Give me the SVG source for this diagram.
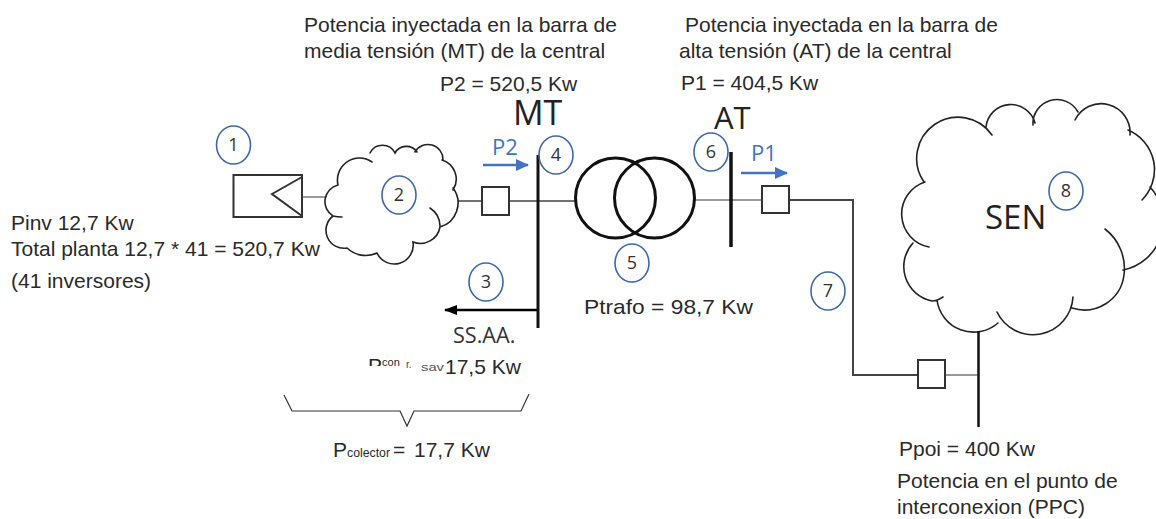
<svg xmlns="http://www.w3.org/2000/svg" width="1156" height="519" viewBox="0 0 1156 519">
<style>
text{font-family:"Liberation Sans",Arial,sans-serif;font-size:21px;fill:#2a2a2a}
.c{font-family:"Open Sans","Noto Sans",sans-serif}
.n{font-family:"Open Sans","Noto Sans",sans-serif;font-size:18px;text-anchor:middle;fill:#333}
.num{fill:#fff;stroke:#3f67a8;stroke-width:1.6}
.cl{fill:#fff;stroke:#222;stroke-width:1.6;stroke-linecap:round}
.wire{fill:none;stroke:#444;stroke-width:1.6}
.gray{fill:none;stroke:#999;stroke-width:2}
.bar{fill:none;stroke:#111;stroke-width:3}
.box{fill:#fff;stroke:#333;stroke-width:2}
</style>
<defs>
<marker id="b" markerUnits="userSpaceOnUse" markerWidth="14" markerHeight="12" refX="12" refY="6" orient="auto"><path d="M0 0L13 6L0 12z" fill="#4472c4"/></marker>
<marker id="k" markerUnits="userSpaceOnUse" markerWidth="14" markerHeight="12" refX="12" refY="5" orient="auto"><path d="M0 0L13 5L0 10z" fill="#000"/></marker>
<clipPath id="top"><rect x="360" y="350" width="50" height="16"/></clipPath>
</defs>
<g id="connectors">
<path class="gray" d="M302 197H328"/>
<path class="wire" d="M458 201H482M509 201H575"/>
<path class="gray" d="M695 200H762"/>
<path class="wire" style="stroke-width:2" d="M789 200H853V375H918"/>
<path class="gray" d="M945 375H978"/>
<path d="M483 165H528" stroke="#4472c4" stroke-width="2.4" fill="none" marker-end="url(#b)"/>
<path d="M741 173H787" stroke="#4472c4" stroke-width="2.4" fill="none" marker-end="url(#b)"/>
<path d="M538 310H445" stroke="#000" stroke-width="2.6" fill="none" marker-end="url(#k)"/>
<path d="M284 395L292 411H400L407 426L414 411H521L529 394" fill="none" stroke="#333" stroke-width="1.2"/>
</g>
<g id="node-1"><path class="box" style="fill:none" d="M233.500 175H302V217H233.500ZM302 177L272 194L302 216"/><ellipse class="num" cx="233.500" cy="145" rx="17" ry="19"/><text class="n" x="233.500" y="151">1</text></g>
<g id="node-2"><path class="cl" d="M338 185A22 22 0 0 1 372 162M370 153A14 14 0 0 1 395 153A13 13 0 0 1 417 152M415 152A15 15 0 0 1 443 160M442 160A20 20 0 0 1 453 190M453 188A25 25 0 0 1 440 227M430 208A22 22 0 0 1 440 227A20 20 0 0 1 413 242A19 19 0 0 1 377 253A27 27 0 0 1 347 248A18 18 0 0 1 333 216Q337 217 342 217M333 216A17 17 0 0 1 338 185"/><ellipse class="num" cx="399" cy="195" rx="17" ry="19"/><text class="n" x="399" y="201">2</text></g>
<g id="node-3"><ellipse class="num" cx="486" cy="282" rx="17" ry="19"/><text class="n" x="486" y="288">3</text></g>
<g id="node-4"><path class="bar" d="M538 155V328"/><ellipse class="num" style="fill:none" cx="556" cy="155" rx="17" ry="19"/><text class="n" x="556" y="161">4</text></g>
<g id="node-5"><circle cx="615.500" cy="198" r="40" fill="none" stroke="#111" stroke-width="3"/><circle cx="654.500" cy="198" r="40" fill="none" stroke="#111" stroke-width="3"/><ellipse class="num" cx="632" cy="263" rx="17" ry="19"/><text class="n" x="632" y="269">5</text></g>
<g id="node-6"><path class="bar" style="stroke-width:3.500" d="M731 152V247"/><ellipse class="num" style="fill:none" cx="711" cy="152" rx="17" ry="19"/><text class="n" x="711" y="158">6</text></g>
<g id="node-7"><ellipse class="num" cx="828" cy="291" rx="17" ry="19"/><text class="n" x="828" y="297">7</text></g>
<g id="node-8"><path class="cl" d="M924 182A40 40 0 0 1 992 135M986 127A25 25 0 0 1 1035 123M1033 125A24 24 0 0 1 1078 112M1075 120A29 29 0 0 1 1130 135M1128 130A43 43 0 0 1 1142 200M1150 187A50 50 0 0 1 1123 270M1105 229A50 50 0 0 1 1124 275A40 40 0 0 1 1072 308M1073 297A40 40 0 0 1 997 312M998 323A37 37 0 0 1 937 300M943 297Q937 301 932 301A35 35 0 0 1 913 243M929 247A33.600 33.600 0 0 1 925 182"/><path class="bar" style="stroke-width:2.500" d="M978.500 331V427"/><ellipse class="num" cx="1066" cy="191" rx="17" ry="19"/><text class="n" x="1066" y="197">8</text><text class="c" x="985" y="229" style="font-size:33px;fill:#222">SEN</text></g>
<g id="breakers"><rect class="box" x="482" y="187" width="27" height="28"/><rect class="box" x="762" y="186" width="27" height="27"/><rect class="box" x="918" y="360" width="27" height="28"/></g>
<g id="labels">
<text x="304" y="32">Potencia inyectada en la barra de</text>
<text x="304" y="58">media tensión (MT) de la central</text>
<text x="440" y="91">P2 = 520,5 Kw</text>
<text class="c" x="513" y="125" style="font-size:34px;fill:#222">MT</text>
<text x="685" y="32">Potencia inyectada en la barra de</text>
<text x="679" y="58">alta tensión (AT) de la central</text>
<text x="681" y="90">P1 = 404,5 Kw</text>
<text class="c" x="714" y="129" style="font-size:31px;fill:#222">AT</text>
<text class="c" x="492" y="155" style="font-size:22px;fill:#4472c4">P2</text>
<text class="c" x="751" y="161" style="font-size:22px;fill:#4472c4">P1</text>
<text x="11" y="230">Pinv 12,7 Kw</text>
<text x="11" y="256">Total planta 12,7 * 41 = 520,7 Kw</text>
<text x="11" y="288">(41 inversores)</text>
<text class="c" x="453" y="343" style="font-size:21.600px;fill:#333">SS.AA.</text>
<text x="584" y="314" textLength="169" lengthAdjust="spacingAndGlyphs" style="font-size:21px">Ptrafo = 98,7 Kw</text>
<text x="368" y="373" clip-path="url(#top)">P<tspan dy="-7" style="font-size:11px">con</tspan></text>
<text x="406" y="368" style="font-size:10px;fill:#444">r.</text>
<text x="421" y="371" textLength="23" lengthAdjust="spacingAndGlyphs" style="font-size:11px;fill:#555">sav</text>
<text x="445" y="374">17,5 Kw</text>
<text x="333" y="457">P</text>
<text x="347" y="457" textLength="43" lengthAdjust="spacingAndGlyphs" style="font-size:13px">colector</text>
<text x="393" y="457">=</text>
<text x="414" y="457">17,7 Kw</text>
<text x="899" y="456">Ppoi = 400 Kw</text>
<text x="897" y="488">Potencia en el punto de</text>
<text x="897" y="514">interconexion (PPC)</text>
</g>
</svg>
